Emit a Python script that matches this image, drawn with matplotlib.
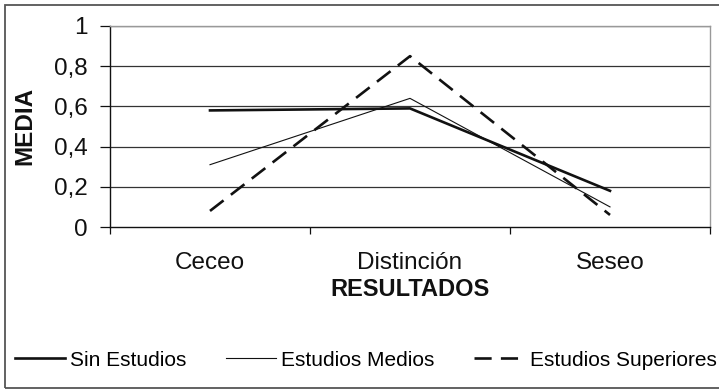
import matplotlib
matplotlib.use("Agg")
import matplotlib.pyplot as plt
from matplotlib.patches import Rectangle
from matplotlib.ticker import FixedLocator, FuncFormatter

plt.rcParams['font.family'] = ['Liberation Sans', 'DejaVu Sans']

categories = ["Ceceo", "Distinción", "Seseo"]
sin_estudios = [0.58, 0.59, 0.18]
estudios_medios = [0.31, 0.64, 0.10]
estudios_superiores = [0.08, 0.85, 0.06]
y_ticks = [0, 0.2, 0.4, 0.6, 0.8, 1.0]

W, H = 719, 389
fig = plt.figure(figsize=(W / 100, H / 100), dpi=100)
fig.patch.set_facecolor("white")

# outer chart frame
fig.patches.append(Rectangle((5 / W, 1 / H), 1.0, (H - 6) / H,
                             transform=fig.transFigure, fill=False,
                             edgecolor="#555555", linewidth=1.3))

left, right, top, bottom = 110, 710, 26, 227
ax = fig.add_axes([left / W, 1 - bottom / H, (right - left) / W, (bottom - top) / H])

x = list(range(len(categories)))
ax.plot(x, sin_estudios, color="#111111", linewidth=1.9, label="Sin Estudios", zorder=3)
ax.plot(x, estudios_medios, color="#111111", linewidth=0.8, label="Estudios Medios", zorder=3)
ax.plot(x, estudios_superiores, color="#111111", linewidth=1.9, dashes=(6.5, 3.5),
        label="Estudios Superiores", zorder=3)

ax.set_xlim(-0.5, len(categories) - 0.5)
ax.set_ylim(0, 1)

# horizontal gridlines
for v in y_ticks[1:]:
    ax.axhline(v, color="#333333", linewidth=0.9, zorder=1)

ax.set_yticks(y_ticks)
ax.yaxis.set_major_formatter(FuncFormatter(lambda v, p: f"{v:g}".replace(".", ",")))
ax.tick_params(axis="y", direction="out", length=7, width=0.9, pad=9,
               labelsize=17.5, colors="#111111")

ax.set_xticks(x)
ax.set_xticklabels(categories)
ax.xaxis.set_minor_locator(FixedLocator([i - 0.5 for i in range(len(categories) + 1)]))
ax.tick_params(axis="x", which="major", length=0, pad=18, labelsize=17.5, colors="#111111")
ax.tick_params(axis="x", which="minor", direction="out", length=5, width=0.9, color="#111111")

for side in ["left", "bottom"]:
    ax.spines[side].set_color("#111111")
    ax.spines[side].set_linewidth(1.0)
for side in ["top", "right"]:
    ax.spines[side].set_color("#999999")
    ax.spines[side].set_linewidth(1.0)

fig.text(410 / W, 1 - 289 / H, "RESULTADOS", ha="center", va="center",
         fontsize=17, fontweight="bold", color="#111111")
fig.text(25 / W, 1 - 126 / H, "MEDIA", ha="center", va="center", rotation=90,
         fontsize=17.5, fontweight="bold", color="#111111")

handles, labels = ax.get_legend_handles_labels()
fig.legend(handles, labels, loc="center left", bbox_to_anchor=(15 / W, 1 - 360 / H),
           ncol=3, frameon=False, fontsize=15, handlelength=2.4, handletextpad=0.25,
           columnspacing=1.9, borderaxespad=0, borderpad=0)

fig.savefig("out.png", dpi=100, facecolor="white")
